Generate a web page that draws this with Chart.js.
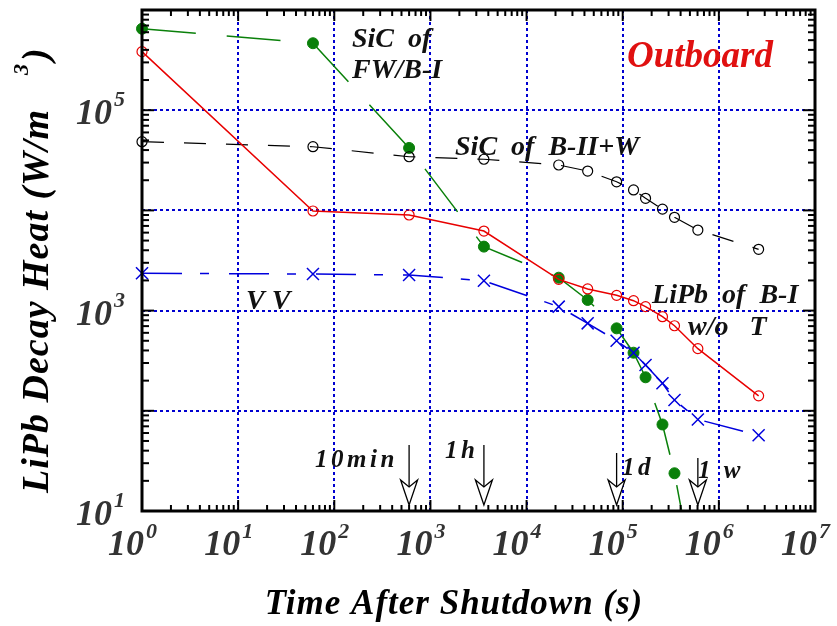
<!DOCTYPE html>
<html><head><meta charset="utf-8">
<script src="https://cdn.jsdelivr.net/npm/chart.js@4.4.1/dist/chart.umd.min.js"></script>
<style>html,body{margin:0;padding:0;background:#fff;}#wrap{width:837px;height:626px;}</style>
</head><body><div id="wrap"><canvas id="c" width="837" height="626"></canvas></div>
<script>
// ---- data ----
const times   = [1, 60, 600, 3600, 21600, 43200, 86400, 129600, 172800, 259200, 345600, 604800, 2592000];
const sicFwB1 = [6.5e5, 4.66e5, 4.2e4, 4350, 2130, 1277, 665, 380, 216, 73, 23.8, 1.4];
const lipbB1  = [3.84e5, 9860, 9000, 6220, 2050, 1645, 1420, 1256, 1095, 869, 706, 417, 141];
const sicB2W  = [4.85e4, 4.32e4, 3.43e4, 3.24e4, 2.84e4, 2.47e4, 1.93e4, 1.6e4, 1.32e4, 1.03e4, 8530, 6370, 4090];
const vv      = [2356, 2320, 2265, 1985, 1095, 746, 501, 380, 286, 188, 128, 82, 57];
const xTickExps = [0, 1, 2, 3, 4, 5, 6, 7];
const yTickExps = [1, 2, 3, 4, 5, 6];
const yLabelExps = [1, 3, 5];
const arrowTimes  = [600, 3600, 86400, 604800];
const arrowLabels = ['10min', '1h', '1d', '1 w'];
const arrowTopVal = [45.6, 45.6, 37.9, 33.8];
const arrowTipVal = 11.5;
const seriesNotes = [
  ['SiC  of', 152.8, 4.28e5],
  ['FW/B-I', 152.8, 2.09e5],
  ['SiC  of  B-II+W', 1803, 3.57e4],
  ['V V', 12.07, 1038],
  ['LiPb  of  B-I', 2.02e5, 1191],
  ['w/o   T', 4.78e5, 571]
];
const timeNotePos = [[63, 27.5], [1418, 33.8], [9.84e4, 22.9], [6.07e5, 21.3]];
const titleNote = ['Outboard', 1.109e5, 2.7e5];

const FONT = '"Liberation Serif","Times New Roman",serif';
const pts = ys => ys.map((y, i) => ({x: times[i], y}));

function setFont(ctx, size, color, spacing) {
  ctx.font = `italic bold ${size}px ${FONT}`;
  ctx.fillStyle = color;
  ctx.letterSpacing = (spacing || 0) + 'px';
  ctx.textBaseline = 'alphabetic';
}

const decor = {
  id: 'decor',
  afterDraw(chart) {
    const {ctx, chartArea: a, scales: {x: xs, y: ys}} = chart;
    ctx.save();
    ctx.strokeStyle = '#000';
    ctx.lineWidth = 2;
    const seg = (x1, y1, x2, y2) => { ctx.beginPath(); ctx.moveTo(x1, y1); ctx.lineTo(x2, y2); ctx.stroke(); };
    for (let e = 0; e < 7; e++) for (let m = 1; m <= 9; m++) {
      const v = m * Math.pow(10, e);
      if (v <= 1 || v >= 1e7) continue;
      const px = xs.getPixelForValue(v);
      const L = m === 1 ? 11 : 6;
      seg(px, a.bottom, px, a.bottom - L);
      seg(px, a.top, px, a.top + L);
    }
    for (let e = 1; e < 6; e++) for (let m = 1; m <= 9; m++) {
      const v = m * Math.pow(10, e);
      if (v <= 10 || v >= 1e6) continue;
      const py = ys.getPixelForValue(v);
      const L = m === 1 ? 12 : 7;
      seg(a.left, py, a.left + L, py);
      seg(a.right, py, a.right - L, py);
    }
    ctx.lineWidth = 3;
    ctx.strokeRect(a.left, a.top, a.right - a.left, a.bottom - a.top);

    xTickExps.forEach(e => {
      const px = xs.getPixelForValue(Math.pow(10, e));
      setFont(ctx, 36, '#333'); ctx.textAlign = 'right';
      ctx.fillText('10', px + 2, 555);
      setFont(ctx, 22, '#333'); ctx.textAlign = 'left';
      ctx.fillText(String(e), px + 4, 538);
    });
    yLabelExps.forEach(e => {
      const py = ys.getPixelForValue(Math.pow(10, e));
      setFont(ctx, 36, '#333'); ctx.textAlign = 'right';
      ctx.fillText('10', 112, py + 14);
      setFont(ctx, 22, '#333'); ctx.textAlign = 'left';
      ctx.fillText(String(e), 114, py - 4);
    });

    setFont(ctx, 35, '#000', 1); ctx.textAlign = 'center';
    ctx.fillText('Time After Shutdown (s)', 454, 614);
    ctx.save();
    ctx.translate(48, 493); ctx.rotate(-Math.PI / 2);
    setFont(ctx, 38, '#000', 1); ctx.textAlign = 'left';
    const main = 'LiPb Decay Heat (W/m';
    ctx.fillText(main, 0, 0);
    const w = ctx.measureText(main).width;
    setFont(ctx, 22, '#000'); ctx.fillText('3', w + 34, -20);
    setFont(ctx, 38, '#000'); ctx.fillText(')', w + 48, 0);
    ctx.restore();

    setFont(ctx, 28, '#111'); ctx.textAlign = 'left';
    seriesNotes.forEach(([t, xv, yv]) => ctx.fillText(t, xs.getPixelForValue(xv), ys.getPixelForValue(yv)));
    setFont(ctx, 37, '#e01010');
    ctx.fillText(titleNote[0], xs.getPixelForValue(titleNote[1]), ys.getPixelForValue(titleNote[2]));

    arrowTimes.forEach((t, i) => {
      const px = xs.getPixelForValue(t);
      const top = ys.getPixelForValue(arrowTopVal[i]);
      const tip = ys.getPixelForValue(arrowTipVal);
      ctx.strokeStyle = '#000'; ctx.lineWidth = 1.3;
      seg(px, top, px, tip - 17);
      ctx.beginPath();
      ctx.moveTo(px, tip);
      ctx.lineTo(px - 8.5, tip - 25);
      ctx.lineTo(px, tip - 18);
      ctx.lineTo(px + 8.5, tip - 25);
      ctx.closePath();
      ctx.fillStyle = '#fff'; ctx.fill(); ctx.stroke();
      setFont(ctx, 25, '#111', 3.5); ctx.textAlign = 'left';
      ctx.fillText(arrowLabels[i], xs.getPixelForValue(timeNotePos[i][0]), ys.getPixelForValue(timeNotePos[i][1]));
    });
    ctx.restore();
  }
};

const clipBox = {left: 12, top: 12, right: 12, bottom: 0};
new Chart(document.getElementById('c'), {
  type: 'line',
  data: {datasets: [
    {label: 'VV', data: pts(vv), borderColor: '#0000dd', borderWidth: 1.5, borderDash: [40, 18, 9, 20],
     pointStyle: 'crossRot', pointRadius: 8.5, pointBorderWidth: 1.5, pointBorderColor: '#0000dd',
     pointBackgroundColor: 'rgba(0,0,0,0)', tension: 0, clip: clipBox},
    {label: 'LiPb of B-I w/o T', data: pts(lipbB1), borderColor: '#e80000', borderWidth: 1.5,
     pointStyle: 'circle', pointRadius: 5, pointBorderWidth: 1.2, pointBorderColor: '#e80000',
     pointBackgroundColor: 'rgba(0,0,0,0)', tension: 0, clip: clipBox},
    {label: 'SiC of B-II+W', data: pts(sicB2W), borderColor: '#000', borderWidth: 1.2, borderDash: [22, 20],
     pointStyle: 'circle', pointRadius: 5, pointBorderWidth: 1.2, pointBorderColor: '#000',
     pointBackgroundColor: 'rgba(0,0,0,0)', tension: 0, clip: clipBox},
    {label: 'SiC of FW/B-I', data: pts(sicFwB1), borderColor: '#0a800a', borderWidth: 1.5,
     borderDash: [54, 31], pointStyle: 'circle', pointRadius: 5.5, pointBorderWidth: 1,
     pointBorderColor: '#0a800a', pointBackgroundColor: '#0a800a', tension: 0, clip: clipBox}
  ]},
  options: {
    responsive: false, animation: false, devicePixelRatio: 1, events: [],
    layout: {padding: {left: 142, right: 22, top: 10, bottom: 115}},
    plugins: {legend: {display: false}, tooltip: {enabled: false}, title: {display: false}},
    scales: {
      x: {type: 'logarithmic', min: 1, max: 1e7,
          afterBuildTicks: s => { s.ticks = xTickExps.map(e => ({value: Math.pow(10, e)})); },
          afterFit: s => { s.height = 0; },
          ticks: {display: false}, grid: {color: '#0000d0', lineWidth: 2, drawTicks: false},
          border: {display: false, dash: [3, 3]}},
      y: {type: 'logarithmic', min: 10, max: 1e6,
          afterBuildTicks: s => { s.ticks = yTickExps.map(e => ({value: Math.pow(10, e)})); },
          afterFit: s => { s.width = 0; },
          ticks: {display: false}, grid: {color: '#0000d0', lineWidth: 2, drawTicks: false},
          border: {display: false, dash: [3, 3]}}
    }
  },
  plugins: [decor]
});
</script></body></html>
